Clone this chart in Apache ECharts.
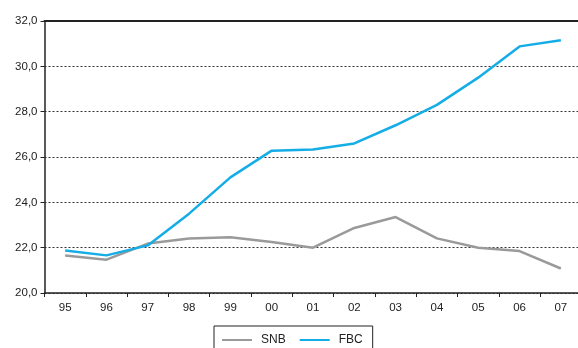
<!DOCTYPE html>
<html>
<head>
<meta charset="utf-8">
<script src="https://cdn.jsdelivr.net/npm/echarts@6/dist/echarts.min.js"></script>
<style>
  html, body { margin: 0; padding: 0; background: #fff; overflow: hidden; }
  #chart { width: 578px; height: 348px; }
</style>
</head>
<body>
<div id="chart"></div>
<script>
// Years shown on the category axis
var years = ['95', '96', '97', '98', '99', '00', '01', '02', '03', '04', '05', '06', '07'];

// Series values
var snb = [21.65, 21.47, 22.18, 22.4, 22.46, 22.25, 22.0, 22.87, 23.35, 22.41, 22.0, 21.85, 21.08];
var fbc = [21.88, 21.66, 22.1, 23.5, 25.1, 26.28, 26.33, 26.6, 27.4, 28.3, 29.5, 30.88, 31.15];

// Value axis range
var yMin = 20, yMax = 32, yStep = 2;

var chart = echarts.init(document.getElementById('chart'));
var font = 'Liberation Sans, Arial, sans-serif';

chart.setOption({
  animation: false,
  backgroundColor: '#fff',
  // plot area runs slightly past the right edge of the canvas
  grid: { left: 44.5, top: 21, width: 537, height: 272, outerBoundsMode: 'none', containLabel: false },
  legend: {
    left: 214, top: 326,
    padding: [8, 10, 12, 8],
    itemGap: 14,
    itemWidth: 30, itemHeight: 14,
    borderColor: '#222', borderWidth: 1,
    textStyle: { fontFamily: font, fontSize: 12, color: '#222', padding: [0, 0, 0, 4] },
    data: [
      { name: 'SNB', icon: 'path://M0,6 L30,6 L30,8 L0,8 Z' },
      { name: 'FBC', icon: 'path://M0,6 L30,6 L30,8 L0,8 Z' }
    ]
  },
  xAxis: [
    {
      type: 'category',
      data: years,
      boundaryGap: true,
      axisLine: { lineStyle: { color: '#222', width: 1.5 } },
      axisTick: { show: true, length: 4, lineStyle: { color: '#222' } },
      axisLabel: { fontFamily: font, fontSize: 11.5, color: '#222', margin: 9 },
      splitLine: { show: false }
    },
    {
      // solid frame line along the top of the plot
      type: 'category',
      data: years,
      position: 'top',
      axisLine: { show: true, lineStyle: { color: '#222', width: 2 } },
      axisTick: { show: false },
      axisLabel: { show: false },
      splitLine: { show: false }
    }
  ],
  yAxis: {
    type: 'value',
    min: yMin, max: yMax, interval: yStep,
    axisLine: { show: true, lineStyle: { color: '#222', width: 1.5 } },
    axisTick: { show: true, length: 4, lineStyle: { color: '#222' } },
    axisLabel: {
      fontFamily: font, fontSize: 11.5, color: '#222', margin: 7,
      formatter: function (v) { return v.toFixed(1).replace('.', ','); }
    },
    splitLine: { show: true, lineStyle: { color: '#333', type: [2, 2], width: 1 } }
  },
  series: [
    {
      name: 'SNB', type: 'line', data: snb, symbol: 'none',
      itemStyle: { color: '#9a9a9a' },
      lineStyle: { color: '#9a9a9a', width: 2.5 }
    },
    {
      name: 'FBC', type: 'line', data: fbc, symbol: 'none',
      itemStyle: { color: '#14ade6' },
      lineStyle: { color: '#14ade6', width: 2.5 }
    }
  ]
});
</script>
</body>
</html>
